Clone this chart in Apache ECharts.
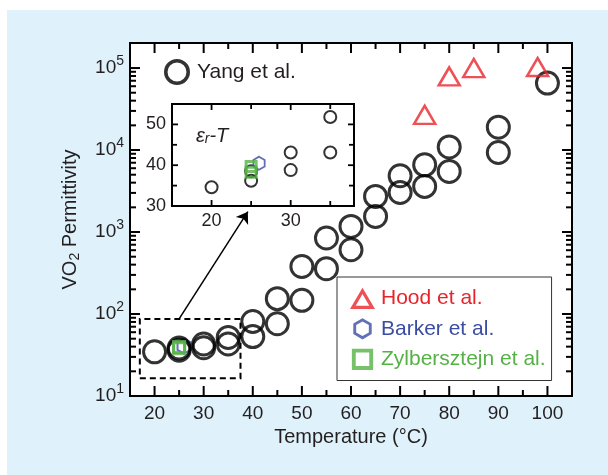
<!DOCTYPE html>
<html><head><meta charset="utf-8">
<script src="https://cdn.jsdelivr.net/npm/echarts@6/dist/echarts.min.js"></script>
<style>
html,body{margin:0;padding:0;background:#fff;}
#wrap{position:relative;width:608px;height:475px;overflow:hidden;}
#panel{position:absolute;left:7px;top:10px;width:601px;height:465px;background:#dff1fa;}
#chart{position:absolute;left:0;top:0;width:608px;height:475px;}
</style></head><body>
<div id="wrap"><div id="panel"></div><div id="chart"></div></div>
<script>
// ---- data (temperature °C, permittivity) ----
const yangData = [
  [20, 34.6], [25, 36.2], [25, 38.5], [30, 38.8], [30, 43.1], [35, 43.1], [35, 51.8],
  [40, 53], [40, 81], [45, 76], [45, 154], [50, 147], [50, 380], [55, 357], [55, 846],
  [60, 608], [60, 1170], [65, 1550], [65, 2720], [70, 3040], [70, 4860], [75, 3600], [75, 6600],
  [80, 5480], [80, 10900], [90, 9330], [90, 19000], [100, 65600]
];
const hoodData = [[75, 26900], [80, 79000], [85, 100000], [98, 103000]];
const barkerData = [[26, 40.5]];
const zylbData = [[25, 38.3], [25, 39.7]];

// ---- axes / ticks ----
const xTickLabels = [20, 30, 40, 50, 60, 70, 80, 90, 100];
const xMinorTicks = [25, 35, 45, 55, 65, 75, 85, 95];
const yDecades = [10, 100, 1000, 10000, 100000];
const yMinorTicks = [20, 30, 40, 50, 60, 70, 80, 90,
  200, 300, 400, 500, 600, 700, 800, 900,
  2000, 3000, 4000, 5000, 6000, 7000, 8000, 9000,
  20000, 30000, 40000, 50000, 60000, 70000, 80000, 90000];
const insetXLabels = [20, 30];
const insetXMinor = [25, 35];
const insetYLabels = [40, 50];
const insetYLabelShown = [30, 40, 50];
const insetYMinor = [35, 45];

// ---- annotations (data coordinates) ----
const zoomBox = [[17, 16.5], [37.5, 87]];
const arrowLine = [[25, 87], [39, 1770]];

const FONT = '"Liberation Sans", Arial, sans-serif';
const TXT = '#231f20';
const RED = '#e8242b', BLUE = '#3b4ca3', GREEN = '#55b146';
const HEX = 'path://M0,-1 L0.866,-0.5 L0.866,0.5 L0,1 L-0.866,0.5 L-0.866,-0.5 Z';
const NONE = 'rgba(255,255,255,0)';

// legend icons drawn as filled outline rings (box -10..10 x -9..9)
const BOX = 'M-10,-9 L-10,-9 L-10,-9 Z M10,9 L10,9 L10,9 Z ';
const ICON_TRI = 'path://' + BOX + 'M0,-8.5 L10,8.5 L-10,8.5 Z M0,-3.4 L-5.45,5.9 L5.45,5.9 Z';
const ICON_HEX = 'path://' + BOX + 'M0,-8.5 L7.36,-4.25 L7.36,4.25 L0,8.5 L-7.36,4.25 L-7.36,-4.25 Z ' +
  'M0,-5.85 L-5.07,-2.93 L-5.07,2.93 L0,5.85 L5.07,2.93 L5.07,-2.93 Z';
const ICON_SQ = 'path://' + BOX + 'M-8.5,-8.5 L8.5,-8.5 L8.5,8.5 L-8.5,8.5 Z M-5.4,-5.4 L-5.4,5.4 L5.4,5.4 L5.4,-5.4 Z';
const ICON_CIR = 'path://M-11,0 A11,11 0 1,1 11,0 A11,11 0 1,1 -11,0 Z M-8,0 A8,8 0 1,0 8,0 A8,8 0 1,0 -8,0 Z';

function tickSeries(xi, yi, x0, y0, xMaj, xMin, yMaj, yMin, lenMaj, lenMin, lw) {
  const data = [];
  xMaj.forEach(v => data.push([v, y0, 0]));
  xMin.forEach(v => data.push([v, y0, 1]));
  yMaj.forEach(v => data.push([x0, v, 2]));
  yMin.forEach(v => data.push([x0, v, 3]));
  return {
    type: 'custom', xAxisIndex: xi, yAxisIndex: yi, silent: true, z: 6, clip: false,
    encode: { x: 0, y: 1 }, data: data,
    renderItem: function (params, api) {
      const cs = params.coordSys;
      const kind = api.value(2);
      const p = api.coord([api.value(0), api.value(1)]);
      const L = (kind === 0 || kind === 2) ? lenMaj : lenMin;
      const st = { stroke: '#000', lineWidth: lw };
      if (kind < 2) {
        const x = p[0];
        return { type: 'group', children: [
          { type: 'line', shape: { x1: x, y1: cs.y + cs.height, x2: x, y2: cs.y + cs.height - L }, style: st },
          { type: 'line', shape: { x1: x, y1: cs.y, x2: x, y2: cs.y + L }, style: st }
        ]};
      } else {
        const y = p[1];
        return { type: 'group', children: [
          { type: 'line', shape: { x1: cs.x, y1: y, x2: cs.x + L, y2: y }, style: st },
          { type: 'line', shape: { x1: cs.x + cs.width, y1: y, x2: cs.x + cs.width - L, y2: y }, style: st }
        ]};
      }
    }
  };
}

const chart = echarts.init(document.getElementById('chart'), null, { renderer: 'canvas' });
const insetYang = yangData.filter(d => d[0] <= 37);

const option = {
  animation: false,
  backgroundColor: 'transparent',
  textStyle: { fontFamily: FONT, color: TXT },
  grid: [
    { left: 130, top: 43, right: 36, bottom: 79, show: true, backgroundColor: '#fff', borderColor: '#000', borderWidth: 2 },
    { left: 172, top: 104, width: 182, height: 102, show: true, backgroundColor: '#fff', borderColor: '#000', borderWidth: 2 }
  ],
  xAxis: [
    { gridIndex: 0, type: 'value', min: 15, max: 105, interval: 5,
      axisLine: { show: false }, axisTick: { show: false }, splitLine: { show: false },
      axisLabel: { formatter: v => xTickLabels.includes(v) ? String(v) : '', fontSize: 19, color: TXT, margin: 8, fontFamily: FONT },
      name: 'Temperature (°C)', nameLocation: 'middle', nameGap: 31,
      nameTextStyle: { fontSize: 20, color: TXT, fontFamily: FONT } },
    { gridIndex: 1, type: 'value', min: 15, max: 38, interval: 5,
      axisLine: { show: false }, axisTick: { show: false }, splitLine: { show: false },
      axisLabel: { formatter: v => insetXLabels.includes(v) ? String(v) : '', fontSize: 18, color: TXT, margin: 6, fontFamily: FONT } }
  ],
  yAxis: [
    { gridIndex: 0, type: 'log', logBase: 10, min: 10, max: 202000,
      axisLine: { show: false }, axisTick: { show: false }, splitLine: { show: false }, minorTick: { show: false },
      axisLabel: {
        margin: 6, color: TXT, fontFamily: FONT,
        formatter: function (v) {
          const lg = Math.log10(v);
          const e = Math.round(lg);
          if (Math.abs(lg - e) < 1e-6 && yDecades.includes(Math.pow(10, e))) return '{b|10}{s|' + e + '}';
          return '';
        },
        rich: {
          b: { fontSize: 19, lineHeight: 27, color: TXT, fontFamily: FONT },
          s: { fontSize: 14, verticalAlign: 'top', color: TXT, fontFamily: FONT }
        }
      },
      name: '{a|VO}{s|2}{a| Permittivity}', nameLocation: 'middle', nameGap: 48,
      nameTextStyle: {
        rich: {
          a: { fontSize: 20, color: TXT, fontFamily: FONT, lineHeight: 24 },
          s: { fontSize: 14, color: TXT, fontFamily: FONT, verticalAlign: 'bottom' }
        }
      } },
    { gridIndex: 1, type: 'value', min: 30, max: 55, interval: 5,
      axisLine: { show: false }, axisTick: { show: false }, splitLine: { show: false },
      axisLabel: { formatter: v => insetYLabelShown.includes(v) ? String(v) : '', fontSize: 18, color: TXT, margin: 6, fontFamily: FONT } }
  ],
  legend: [
    { data: [{ name: 'Yang et al.', icon: ICON_CIR, itemStyle: { color: '#000', borderWidth: 0 } }],
      left: 164, top: 59, itemWidth: 26, itemHeight: 26, padding: 0,
      selectedMode: false, textStyle: { fontSize: 21, color: TXT, fontFamily: FONT, padding: [0, 0, 0, 2] } },
    { data: [
        { name: 'Hood et al.', icon: ICON_TRI, textStyle: { color: RED }, itemStyle: { color: RED, borderWidth: 0 } },
        { name: 'Barker et al.', icon: ICON_HEX, textStyle: { color: BLUE }, itemStyle: { color: BLUE, borderWidth: 0 } },
        { name: 'Zylbersztejn et al.', icon: ICON_SQ, textStyle: { color: GREEN }, itemStyle: { color: GREEN, borderWidth: 0 } }
      ],
      orient: 'vertical', left: 337, top: 277, padding: [10, 6, 10, 13], itemGap: 8,
      itemWidth: 25, itemHeight: 22.5, backgroundColor: '#fff', borderColor: '#333', borderWidth: 1,
      selectedMode: false, textStyle: { fontSize: 21, fontFamily: FONT, padding: [0, 0, 0, 1] } }
  ],
  graphic: [
    { type: 'text', left: 196, top: 126, z: 20,
      style: {
        text: '{e|ε}{r|r}{e|-}{t|T}',
        rich: {
          e: { fontSize: 20, fontStyle: 'italic', fontFamily: FONT, fill: TXT, verticalAlign: 'top' },
          t: { fontSize: 20, fontStyle: 'italic', fontFamily: FONT, fill: TXT, verticalAlign: 'top' },
          r: { fontSize: 14, fontStyle: 'italic', fontFamily: FONT, fill: TXT, verticalAlign: 'bottom' }
        }
      } }
  ],
  series: [
    { name: 'Yang et al.', type: 'scatter', xAxisIndex: 0, yAxisIndex: 0, data: yangData,
      symbol: 'circle', symbolSize: 22, z: 3,
      itemStyle: { color: NONE, borderColor: '#000', borderWidth: 3 },
      markArea: { silent: true,
        itemStyle: { color: NONE, borderColor: '#000', borderWidth: 2, borderType: [6, 4] },
        data: [[{ coord: zoomBox[0] }, { coord: zoomBox[1] }]] },
      markLine: { silent: true, symbol: ['none', 'arrow'], symbolSize: 11, animation: false,
        lineStyle: { color: '#000', width: 1.5, type: 'solid' }, label: { show: false },
        data: [[{ coord: arrowLine[0] }, { coord: arrowLine[1] }]] } },
    { name: 'Hood et al.', type: 'scatter', xAxisIndex: 0, yAxisIndex: 0, data: hoodData,
      symbol: 'triangle', symbolSize: [21, 18], z: 3,
      itemStyle: { color: NONE, borderColor: RED, borderWidth: 2.5 } },
    { name: 'Barker et al.', type: 'scatter', xAxisIndex: 0, yAxisIndex: 0, data: barkerData,
      symbol: HEX, symbolSize: 15, symbolKeepAspect: true, z: 2,
      itemStyle: { color: NONE, borderColor: BLUE, borderWidth: 2 } },
    { name: 'Zylbersztejn et al.', type: 'scatter', xAxisIndex: 0, yAxisIndex: 0, data: zylbData,
      symbol: 'rect', symbolSize: 11, z: 4,
      itemStyle: { color: NONE, borderColor: GREEN, borderWidth: 3 } },
    // inset
    { name: 'Yang inset', type: 'scatter', xAxisIndex: 1, yAxisIndex: 1, data: insetYang,
      symbol: 'circle', symbolSize: 12, z: 3,
      itemStyle: { color: NONE, borderColor: '#000', borderWidth: 2 } },
    { name: 'Barker inset', type: 'scatter', xAxisIndex: 1, yAxisIndex: 1, data: barkerData,
      symbol: HEX, symbolSize: 13, symbolKeepAspect: true, z: 3,
      itemStyle: { color: NONE, borderColor: BLUE, borderWidth: 1.8 } },
    { name: 'Zylbersztejn inset', type: 'scatter', xAxisIndex: 1, yAxisIndex: 1, data: zylbData,
      symbol: 'rect', symbolSize: 10, z: 4,
      itemStyle: { color: NONE, borderColor: GREEN, borderWidth: 3 } },
    tickSeries(0, 0, 15, 10, xTickLabels, xMinorTicks, yDecades, yMinorTicks, 10, 6, 2),
    tickSeries(1, 1, 15, 30, insetXLabels, insetXMinor, insetYLabels, insetYMinor, 6, 5, 1.8)
  ]
};
chart.setOption(option);
</script>
</body></html>
